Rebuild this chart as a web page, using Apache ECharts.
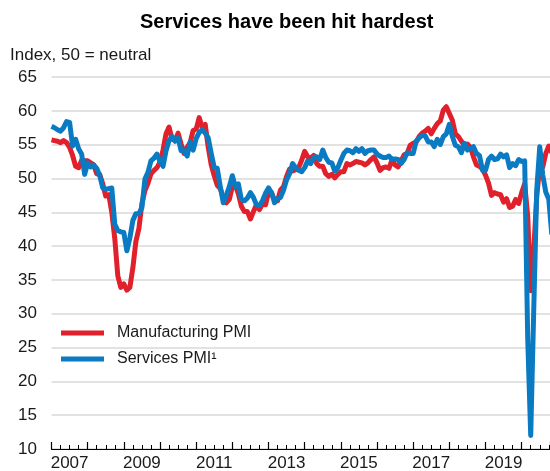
<!DOCTYPE html>
<html>
<head>
<meta charset="utf-8">
<script src="https://cdn.jsdelivr.net/npm/echarts@6/dist/echarts.min.js"></script>
<style>
  html, body { margin: 0; padding: 0; background: #fff; }
  #chart { width: 550px; height: 471px; }
</style>
</head>
<body>
<div id="chart"></div>
<script>
// Euro area PMIs, monthly from January 2007 (index 0) to November 2020
const startYear = 2007;

const manufacturingPMI = [
  55.7, 55.6, 55.5, 55.3, 55.6, 55.3, 54.6, 53.4, 51.8, 51.6, 52.7, 52.6, // 2007
  52.6, 52.3, 52.0, 50.7, 50.6, 49.2, 47.4, 47.6, 45.0, 41.1, 35.6, 33.9, // 2008
  34.4, 33.5, 33.9, 36.8, 40.7, 42.6, 46.3, 48.2, 49.3, 50.7, 51.2, 51.6, // 2009
  52.4, 54.2, 56.6, 57.6, 55.8, 55.6, 56.7, 55.1, 53.7, 54.6, 55.3, 57.1, // 2010
  57.3, 59.0, 57.5, 58.0, 54.6, 52.0, 50.4, 49.0, 48.5, 47.1, 46.4, 46.9, // 2011
  48.8, 49.0, 47.7, 45.9, 45.1, 45.1, 44.0, 45.1, 46.1, 45.4, 46.2, 46.1, // 2012
  47.9, 47.9, 46.8, 46.7, 48.3, 48.8, 50.3, 51.4, 51.1, 51.3, 51.6, 52.7, // 2013
  54.0, 53.2, 53.0, 53.4, 52.2, 51.8, 51.8, 50.7, 50.3, 50.6, 50.1, 50.6, // 2014
  51.0, 51.0, 52.2, 52.0, 52.2, 52.5, 52.4, 52.3, 52.0, 52.3, 52.8, 53.2, // 2015
  52.3, 51.2, 51.6, 51.7, 51.5, 52.8, 52.0, 51.7, 52.6, 53.5, 53.7, 54.9, // 2016
  55.2, 55.4, 56.2, 56.7, 57.0, 57.4, 56.6, 57.4, 58.1, 58.5, 60.1, 60.6, // 2017
  59.6, 58.6, 56.6, 56.2, 55.5, 54.9, 55.1, 54.6, 53.2, 52.0, 51.8, 51.4, // 2018
  50.5, 49.3, 47.5, 47.9, 47.7, 47.6, 46.5, 47.0, 45.7, 45.9, 46.9, 46.3, // 2019
  47.9, 49.2, 44.5, 33.4, 39.4, 47.4, 51.8, 51.7, 53.7, 54.8, 53.8        // 2020
];

const servicesPMI = [
  57.7, 57.5, 57.2, 57.0, 57.5, 58.4, 58.3, 54.8, 55.8, 54.4, 53.6, 50.6, // 2007
  52.3, 51.7, 52.0, 51.5, 50.4, 48.6, 48.4, 48.5, 48.6, 43.2, 42.3, 42.1, // 2008
  42.0, 39.3, 41.2, 43.8, 44.8, 44.8, 45.7, 49.9, 50.9, 52.6, 53.0, 53.6, // 2009
  52.5, 51.8, 54.1, 55.6, 56.2, 55.5, 56.0, 54.1, 54.1, 53.3, 55.4, 54.2, // 2010
  55.9, 56.8, 57.2, 56.7, 56.0, 53.7, 51.6, 51.5, 48.8, 46.4, 47.5, 48.8, // 2011
  50.4, 48.8, 49.2, 46.9, 46.7, 47.1, 47.9, 47.2, 46.1, 46.0, 46.7, 47.8, // 2012
  48.6, 47.9, 46.4, 47.0, 47.2, 48.3, 49.8, 50.7, 52.2, 51.6, 51.2, 51.0, // 2013
  51.6, 52.6, 52.2, 53.1, 53.2, 52.8, 54.2, 53.1, 52.4, 52.3, 51.1, 51.6, // 2014
  52.7, 53.7, 54.2, 54.1, 53.8, 54.4, 54.0, 54.4, 53.7, 54.1, 54.2, 54.2, // 2015
  53.6, 53.3, 53.1, 53.1, 53.3, 52.8, 52.9, 52.8, 52.2, 52.8, 53.8, 53.7, // 2016
  53.7, 55.5, 56.0, 56.4, 56.3, 55.4, 55.4, 54.7, 55.8, 55.0, 56.2, 56.6, // 2017
  58.0, 56.2, 54.9, 54.7, 53.8, 55.2, 54.2, 54.4, 54.7, 53.7, 53.4, 51.2, // 2018
  51.2, 52.8, 53.3, 52.8, 52.9, 53.6, 53.2, 53.5, 51.6, 52.2, 51.9, 52.8, // 2019
  52.5, 52.6, 26.4, 12.0, 30.5, 48.3, 54.7, 50.5, 48.0, 46.9, 41.7        // 2020
];

const seriesNames = ['Manufacturing PMI', 'Services PMI\u00b9'];
const yTicks = { min: 10, max: 65, step: 5 };

// x is measured in months since January 2007
const xMax = 165.4;
const toPairs = (vals) => vals.map((v, i) => [i, v]);

const FONT = '"Liberation Sans", Arial, Helvetica, sans-serif';
const TEXT = '#1a1a1a';
const RED = '#e0202b';
const BLUE = '#0a7bc2';

const chart = echarts.init(document.getElementById('chart'), null, { renderer: 'canvas' });

const baseX = {
  type: 'value', min: 0, max: xMax, position: 'bottom',
  splitLine: { show: false }
};

chart.setOption({
  animation: false,
  backgroundColor: '#ffffff',
  textStyle: { fontFamily: FONT },
  title: [
    {
      text: 'Services have been hit hardest',
      left: 135, top: 7,
      textStyle: { fontFamily: FONT, fontSize: 20, fontWeight: 'bold', color: '#000' }
    },
    {
      text: 'Index, 50 = neutral',
      left: 5, top: 42,
      textStyle: { fontFamily: FONT, fontSize: 17, fontWeight: 'normal', color: TEXT }
    }
  ],
  legend: {
    orient: 'vertical',
    left: 56, top: 320,
    itemWidth: 43, itemHeight: 5, itemGap: 10,
    icon: 'rect',
    textStyle: { fontFamily: FONT, fontSize: 16, color: TEXT, padding: [0, 0, 0, 8] },
    data: [
      { name: seriesNames[0], itemStyle: { color: RED } },
      { name: seriesNames[1], itemStyle: { color: BLUE } }
    ]
  },
  grid: { left: 51.5, right: 0, top: 77, bottom: 22, containLabel: false, outerBoundsMode: 'none' },
  xAxis: [
    Object.assign({}, baseX, {
      interval: 6,
      axisLine: { show: true, lineStyle: { color: '#000', width: 1.2 } },
      axisTick: { show: false },
      axisLabel: {
        margin: 6, fontSize: 17, color: TEXT, fontFamily: FONT,
        showMinLabel: false, showMaxLabel: false,
        formatter: (v) => ((v - 6) % 24 === 0 ? String(startYear + (v - 6) / 12) : '')
      }
    }),
    Object.assign({}, baseX, {
      interval: 12,
      axisLine: { show: false },
      axisLabel: { show: false },
      axisTick: { show: true, inside: true, length: 7, lineStyle: { color: '#000', width: 1.2 } }
    }),
    Object.assign({}, baseX, {
      interval: 3,
      axisLine: { show: false },
      axisLabel: { show: false },
      axisTick: { show: true, inside: true, length: 4, lineStyle: { color: '#000', width: 1 } }
    })
  ],
  yAxis: {
    type: 'value', min: yTicks.min, max: yTicks.max, interval: yTicks.step,
    axisLine: { show: false }, axisTick: { show: false },
    axisLabel: { margin: 14.5, fontSize: 17, color: TEXT, fontFamily: FONT },
    splitLine: { lineStyle: { color: '#d9d9d9', width: 1.5 } }
  },
  series: [
    {
      name: seriesNames[0], type: 'line', xAxisIndex: 0,
      data: toPairs(manufacturingPMI),
      showSymbol: false, symbol: 'none', clip: true,
      lineStyle: { color: RED, width: 5, join: 'round' },
      itemStyle: { color: RED }
    },
    {
      name: seriesNames[1], type: 'line', xAxisIndex: 0,
      data: toPairs(servicesPMI),
      showSymbol: false, symbol: 'none', clip: true,
      lineStyle: { color: BLUE, width: 5, join: 'round' },
      itemStyle: { color: BLUE }
    }
  ]
});
</script>
</body>
</html>
